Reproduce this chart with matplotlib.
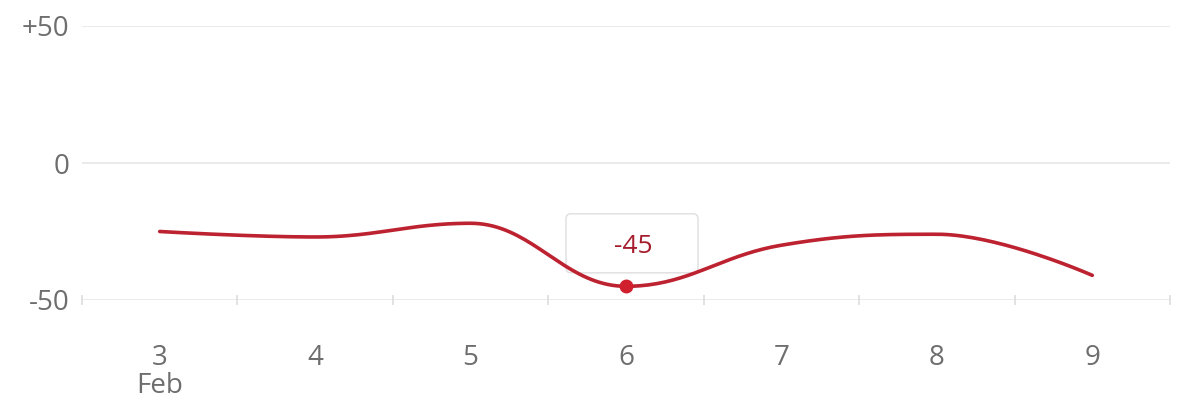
import numpy as np
import matplotlib
matplotlib.use("Agg")
import matplotlib.pyplot as plt
from matplotlib.patches import FancyBboxPatch
from matplotlib.transforms import ScaledTranslation

# ---- data ----
days = [3, 4, 5, 6, 7, 8, 9]
values = [-25, -27, -22, -45, -30, -26, -41]
tick_labels = ["3\nFeb", "4", "5", "6", "7", "8", "9"]
y_ticks = [-50, 0, 50]
y_tick_labels = ["-50", "0", "+50"]
highlight_day = 6
highlight_label = "-45"

LINE = "#bd2230"
TXT = "#6e6e6e"

plt.rcParams["font.family"] = ["Open Sans", "DejaVu Sans"]


def highcharts_spline(xs, ys, smoothing=1.5, n=40):
    xs = np.asarray(xs, float)
    ys = np.asarray(ys, float)
    m = len(xs)
    lc = [None] * m
    rc = [None] * m
    denom = smoothing + 1
    for i in range(m):
        px, py = xs[i], ys[i]
        if i == 0 or i == m - 1:
            lc[i] = (px, py)
            rc[i] = (px, py)
            continue
        lx, ly = xs[i - 1], ys[i - 1]
        nx, ny = xs[i + 1], ys[i + 1]
        lcx = (smoothing * px + lx) / denom
        lcy = (smoothing * py + ly) / denom
        rcx = (smoothing * px + nx) / denom
        rcy = (smoothing * py + ny) / denom
        if rcx != lcx:
            corr = ((rcy - lcy) * (rcx - px)) / (rcx - lcx) + py - rcy
            lcy += corr
            rcy += corr
        if lcy > ly and lcy > py:
            lcy = max(ly, py)
            rcy = 2 * py - lcy
        elif lcy < ly and lcy < py:
            lcy = min(ly, py)
            rcy = 2 * py - lcy
        if rcy > ny and rcy > py:
            rcy = max(ny, py)
            lcy = 2 * py - rcy
        elif rcy < ny and rcy < py:
            rcy = min(ny, py)
            lcy = 2 * py - rcy
        lc[i] = (lcx, lcy)
        rc[i] = (rcx, rcy)
    X, Y = [], []
    t = np.linspace(0, 1, n)
    for i in range(1, m):
        p0 = np.array([xs[i - 1], ys[i - 1]])
        p1 = np.array(rc[i - 1])
        p2 = np.array(lc[i])
        p3 = np.array([xs[i], ys[i]])
        pts = ((1 - t)[:, None] ** 3 * p0 + 3 * ((1 - t) ** 2 * t)[:, None] * p1
               + 3 * ((1 - t) * t ** 2)[:, None] * p2 + (t ** 3)[:, None] * p3)
        X.extend(pts[:, 0])
        Y.extend(pts[:, 1])
    return np.array(X), np.array(Y)


fig = plt.figure(figsize=(11.77, 4.05), dpi=100)
ax = fig.add_axes([82 / 1177, 105 / 405, (1170 - 82) / 1177, 274 / 405])

ax.set_xlim(2.5, 9.5)
ax.set_ylim(-50, 50)

for s in ax.spines.values():
    s.set_visible(False)

for yv in y_ticks:
    ax.axhline(yv, color="#e6e6e6", lw=1.2, zorder=0)

sx, sy = highcharts_spline(days, values)
ax.plot(sx, sy, color=LINE, lw=2.6, solid_capstyle="round", zorder=3, clip_on=False)

hi = days.index(highlight_day)
ax.plot([days[hi]], [values[hi]], "o", color="#d0202e", ms=9, zorder=4, clip_on=False)

# tooltip box anchored to the highlighted point
anchor = ScaledTranslation(days[hi], values[hi], ax.transData)
bw, bh = 128 / 100, 55 / 100
box = FancyBboxPatch((-bw / 2 + 0.06, -bh / 2 + 0.43), bw, bh,
                     boxstyle="round,pad=0.02,rounding_size=0.05",
                     transform=fig.dpi_scale_trans + anchor,
                     facecolor="white", edgecolor="#dddddd", lw=1.0, alpha=0.95,
                     zorder=2, clip_on=False)
ax.add_patch(box)
ax.text(0.07, 0.40, highlight_label, transform=fig.dpi_scale_trans + anchor,
        ha="center", va="center", color="#a51d2d", fontsize=19, zorder=6)

ax.set_xticks(days)
ax.set_xticklabels(tick_labels, linespacing=1.0)
ax.set_xticks(np.arange(2.5, 10, 1.0), minor=True)
ax.tick_params(axis="x", which="major", length=0, pad=32, labelsize=20, labelcolor=TXT)
ax.tick_params(axis="x", which="minor", length=7, direction="inout", color="#dddddd", width=1.2)

ax.set_yticks(y_ticks)
ax.set_yticklabels(y_tick_labels)
ax.tick_params(axis="y", length=0, pad=9, labelsize=20, labelcolor=TXT)

fig.savefig("out.png", dpi=100, facecolor="white")
